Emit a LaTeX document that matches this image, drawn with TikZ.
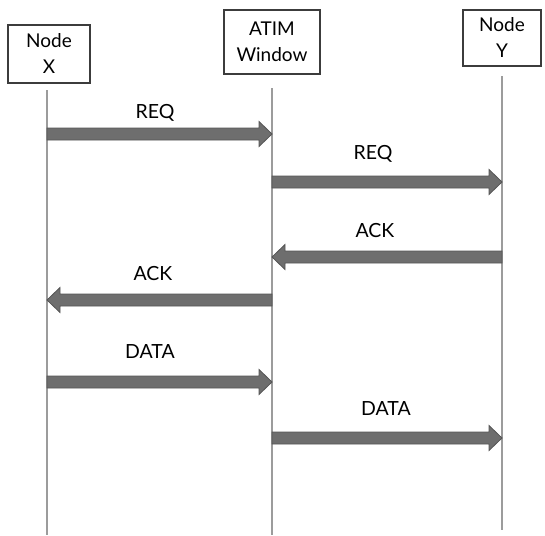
\documentclass[tikz,border=0pt]{standalone}
\usepackage{fontspec}
\setmainfont{Lato}
\usetikzlibrary{calc}
\definecolor{boxline}{HTML}{3C3C3C}
\definecolor{lifegray}{HTML}{9C9C9C}
\definecolor{arrowfill}{HTML}{6E6E6E}
\definecolor{arrowedge}{HTML}{555555}

% thick block arrow from #1 to #2 (both at the same height)
\newcommand\fatarrow[2]{%
  \path[msg] let \p1=(#1), \p2=(#2), \n1={ifthenelse(\x2>\x1,1,-1)} in
    ({\x1},{\y1+6pt}) -- ({\x2-(\n1)*13pt},{\y1+6pt}) -- ({\x2-(\n1)*13pt},{\y1+12.5pt})
    -- ({\x2},{\y1}) -- ({\x2-(\n1)*13pt},{\y1-12.5pt}) -- ({\x2-(\n1)*13pt},{\y1-6pt})
    -- ({\x1},{\y1-6pt}) -- cycle;}

\begin{document}
\begin{tikzpicture}[x=1pt,y=-1pt,
  party/.style={draw=boxline, line width=1.4pt, align=center, inner sep=0pt,
    font=\fontsize{19}{26}\selectfont},
  lifeline/.style={draw=lifegray, line width=1.4pt},
  msg/.style={fill=arrowfill, draw=arrowedge, line width=0.8pt, line join=miter},
  msglabel/.style={font=\fontsize{19.5}{22}\selectfont, anchor=base}]
\useasboundingbox (0,0) rectangle (545,535);

% participants
\node[party, minimum width=82pt, minimum height=58pt] (X) at (49,54) {Node\\X};
\node[party, minimum width=96pt, minimum height=64pt] (W) at (272,42) {ATIM\\Window};
\node[party, minimum width=78pt, minimum height=56pt] (Y) at (502,38) {Node\\Y};

% lifelines
\coordinate (xt) at (47,90);  \coordinate (xb) at (47,535);
\coordinate (wt) at (272,88); \coordinate (wb) at (272,535);
\coordinate (yt) at (502,76); \coordinate (yb) at (502,530);
\draw[lifeline] (xt) -- (xb);
\draw[lifeline] (wt) -- (wb);
\draw[lifeline] (yt) -- (yb);

% message end points on the lifelines
\coordinate (x1) at (47,134);  \coordinate (w1) at (272,134);
\coordinate (w2) at (272,182); \coordinate (y2) at (502,182);
\coordinate (y3) at (502,257); \coordinate (w3) at (272,257);
\coordinate (w4) at (272,300); \coordinate (x4) at (47,300);
\coordinate (x5) at (47,382);  \coordinate (w5) at (272,382);
\coordinate (w6) at (272,438); \coordinate (y6) at (502,438);

\fatarrow{x1}{w1}
\fatarrow{w2}{y2}
\fatarrow{y3}{w3}
\fatarrow{w4}{x4}
\fatarrow{x5}{w5}
\fatarrow{w6}{y6}

% message labels
\node[msglabel] (l1) at (155,118) {REQ};
\node[msglabel] (l2) at (373,159) {REQ};
\node[msglabel] (l3) at (375,237) {ACK};
\node[msglabel] (l4) at (153,280) {ACK};
\node[msglabel] (l5) at (150,358) {DATA};
\node[msglabel] (l6) at (386,415) {DATA};
\end{tikzpicture}
\end{document}
